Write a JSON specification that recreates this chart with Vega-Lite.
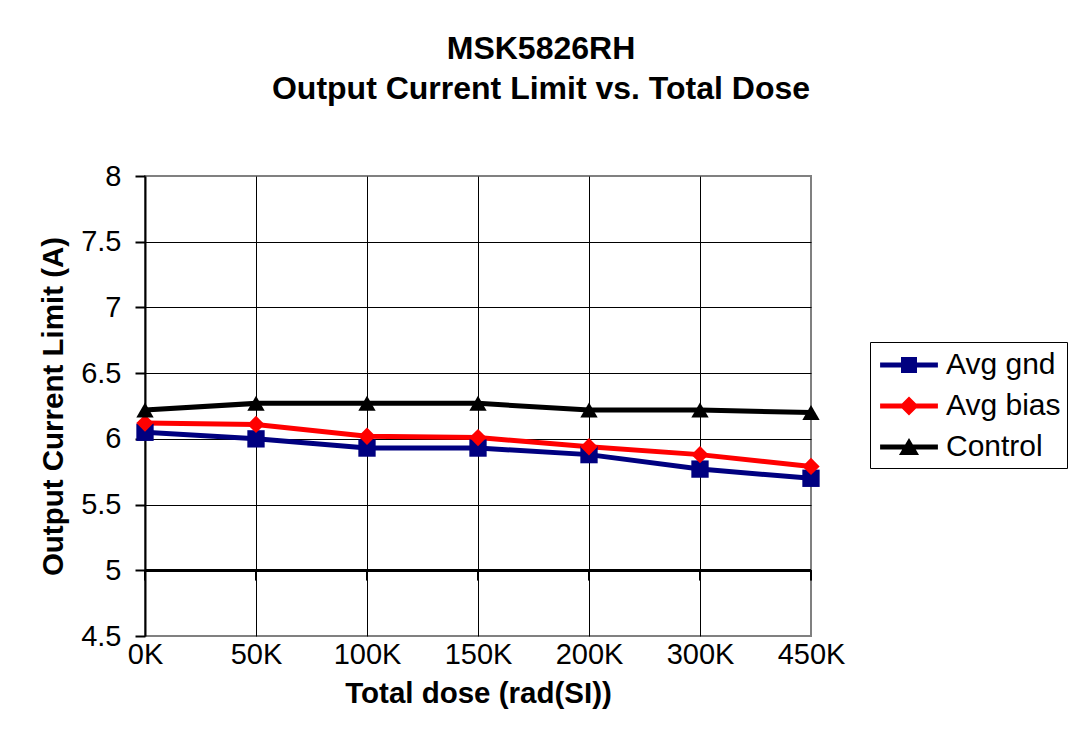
{
  "$schema": "https://vega.github.io/schema/vega-lite/v6.json",
  "width": 666,
  "height": 460,
  "autosize": "none",
  "padding": {"left": 145, "top": 176, "right": 267, "bottom": 102},
  "background": "white",
  "title": {
    "text": ["MSK5826RH", "Output Current Limit vs. Total Dose"],
    "font": "Liberation Sans",
    "fontSize": 32,
    "fontWeight": "bold",
    "color": "black",
    "lineHeight": 40,
    "anchor": "middle",
    "dx": 63,
    "offset": 56
  },
  "config": {
    "view": {"stroke": "#808080", "strokeWidth": 2},
    "axis": {
      "labelFont": "Liberation Sans",
      "labelFontSize": 29,
      "labelColor": "black",
      "titleFont": "Liberation Sans",
      "titleFontSize": 29.5,
      "titleFontWeight": "bold",
      "titleColor": "black",
      "gridColor": "black",
      "gridWidth": 1
    },
    "legend": {
      "labelFont": "Liberation Sans",
      "labelFontSize": 30,
      "labelColor": "black"
    }
  },
  "data": {
    "values": [
      {"dose": "0K", "series": "Avg gnd", "value": 6.05},
      {"dose": "50K", "series": "Avg gnd", "value": 6.0},
      {"dose": "100K", "series": "Avg gnd", "value": 5.93},
      {"dose": "150K", "series": "Avg gnd", "value": 5.93},
      {"dose": "200K", "series": "Avg gnd", "value": 5.88},
      {"dose": "300K", "series": "Avg gnd", "value": 5.77},
      {"dose": "450K", "series": "Avg gnd", "value": 5.70},
      {"dose": "0K", "series": "Avg bias", "value": 6.12},
      {"dose": "50K", "series": "Avg bias", "value": 6.11},
      {"dose": "100K", "series": "Avg bias", "value": 6.02},
      {"dose": "150K", "series": "Avg bias", "value": 6.01},
      {"dose": "200K", "series": "Avg bias", "value": 5.94},
      {"dose": "300K", "series": "Avg bias", "value": 5.88},
      {"dose": "450K", "series": "Avg bias", "value": 5.79},
      {"dose": "0K", "series": "Control", "value": 6.22},
      {"dose": "50K", "series": "Control", "value": 6.27},
      {"dose": "100K", "series": "Control", "value": 6.27},
      {"dose": "150K", "series": "Control", "value": 6.27},
      {"dose": "200K", "series": "Control", "value": 6.22},
      {"dose": "300K", "series": "Control", "value": 6.22},
      {"dose": "450K", "series": "Control", "value": 6.20}
    ]
  },
  "encoding": {
    "x": {
      "field": "dose",
      "type": "ordinal",
      "sort": ["0K", "50K", "100K", "150K", "200K", "300K", "450K"],
      "scale": {"type": "point", "padding": 0},
      "axis": {
        "title": "Total dose (rad(SI))",
        "labelAngle": 0,
        "ticks": false,
        "domain": false,
        "labelPadding": 4,
        "titlePadding": 10,
        "grid": true,
        "gridOpacity": {"condition": {"test": "datum.value == '450K' || datum.value == '0K'", "value": 0}, "value": 1}
      }
    },
    "y": {
      "field": "value",
      "type": "quantitative",
      "scale": {"domain": [4.5, 8], "nice": false, "zero": false},
      "axis": {
        "title": "Output Current Limit (A)",
        "values": [4.5, 5, 5.5, 6, 6.5, 7, 7.5, 8],
        "format": ".1~f",
        "tickSize": 10,
        "tickWidth": 2,
        "tickColor": "black",
        "domainColor": "black",
        "domainWidth": 2,
        "labelPadding": 14,
        "titlePadding": 12,
        "grid": true,
        "gridOpacity": {"condition": {"test": "datum.value == 8 || datum.value == 4.5", "value": 0}, "value": 1}
      }
    }
  },
  "layer": [
    {
      "mark": {"type": "rule", "color": "black", "strokeWidth": 2},
      "encoding": {"x": null, "y": {"datum": 5}}
    },
    {
      "mark": {"type": "rule", "color": "black", "strokeWidth": 2},
      "encoding": {"y": {"datum": 5}, "y2": {"datum": 4.924}}
    },
    {
      "mark": {"type": "line", "strokeWidth": 5},
      "encoding": {
        "color": {
          "field": "series",
          "type": "nominal",
          "scale": {"domain": ["Avg gnd", "Avg bias", "Control"], "range": ["#000080", "#FF0000", "#000000"]},
          "legend": null
        }
      }
    },
    {
      "mark": {"type": "point", "filled": true, "opacity": 1, "size": 300},
      "encoding": {
        "color": {
          "field": "series",
          "type": "nominal",
          "scale": {"domain": ["Avg gnd", "Avg bias", "Control"], "range": ["#000080", "#FF0000", "#000000"]},
          "legend": null
        },
        "shape": {
          "field": "series",
          "type": "nominal",
          "scale": {"domain": ["Avg gnd", "Avg bias", "Control"], "range": ["square", "diamond", "triangle-up"]},
          "legend": null
        }
      }
    },
    {
      "transform": [{"filter": "datum.series == 'none'"}],
      "mark": {"type": "point", "filled": true, "opacity": 1, "size": 1156},
      "encoding": {
        "color": {
          "field": "series",
          "type": "nominal",
          "scale": {"domain": ["Avg gnd", "Avg bias", "Control"], "range": ["#000080", "#FF0000", "#000000"]},
          "legend": {
            "title": null,
            "orient": "none",
            "legendX": 725,
            "legendY": 166,
            "padding": 6,
            "strokeColor": "black",
            "fillColor": "white",
            "symbolSize": 1156,
            "symbolStrokeWidth": 0,
            "symbolOffset": 16,
            "labelOffset": 20,
            "rowPadding": 9
          }
        },
        "shape": {
          "field": "series",
          "type": "nominal",
          "scale": {
            "domain": ["Avg gnd", "Avg bias", "Control"],
            "range": [
              "M-1.7,-0.147H1.7V0.147H-1.7Z M-0.47,-0.47H0.47V0.47H-0.47Z",
              "M-1.7,-0.147H1.7V0.147H-1.7Z M0,-0.56L0.56,0L0,0.56L-0.56,0Z",
              "M-1.7,-0.147H1.7V0.147H-1.7Z M0,-0.53L0.59,0.47H-0.59Z"
            ]
          },
          "legend": {
            "title": null,
            "orient": "none",
            "legendX": 725,
            "legendY": 166,
            "padding": 6,
            "strokeColor": "black",
            "fillColor": "white",
            "symbolSize": 1156,
            "symbolStrokeWidth": 0,
            "symbolOffset": 16,
            "labelOffset": 20,
            "rowPadding": 9
          }
        }
      }
    }
  ],
  "resolve": {"scale": {"color": "independent", "shape": "independent"}}
}
